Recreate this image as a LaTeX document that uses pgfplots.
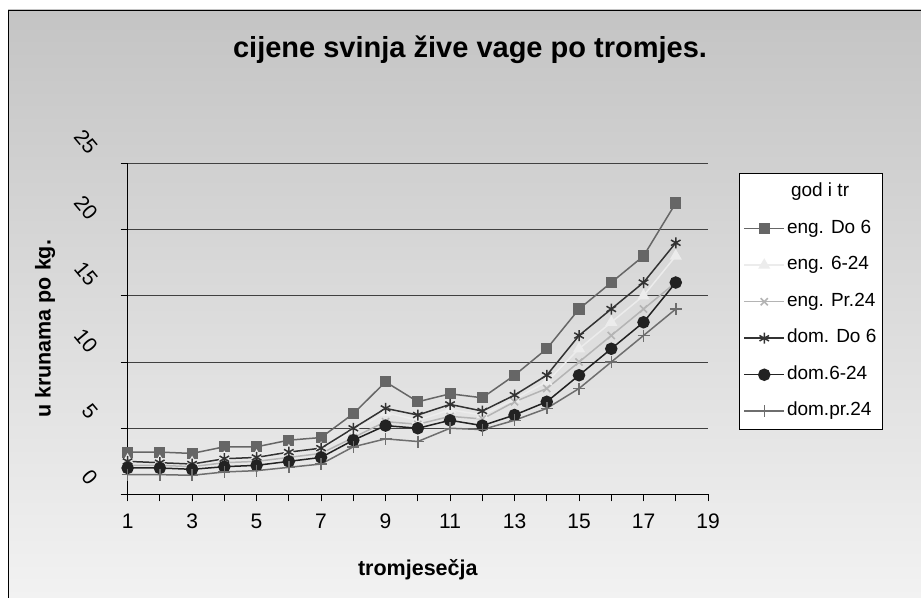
\documentclass[border=0pt]{standalone}
\usepackage{fontspec}
\setmainfont{Liberation Sans}
\usepackage{pgfplots}
\pgfplotsset{compat=1.18}

\definecolor{bgtop}{HTML}{C4C4C4}
\definecolor{bgbot}{HTML}{F2F2F2}
\definecolor{engdo}{HTML}{666666}
\definecolor{engsr}{HTML}{ECECEC}
\definecolor{engpr}{HTML}{B4B4B4}
\definecolor{domdo}{HTML}{333333}
\definecolor{domsr}{HTML}{222222}
\definecolor{dompr}{HTML}{6E6E6E}

\begin{document}
\begin{tikzpicture}[x=1bp,y=1bp]
\useasboundingbox (0,0) rectangle (921,598);
\fill[white] (0,0) rectangle (921,598);
\shade[top color=bgtop, bottom color=bgbot] (8,0) rectangle (921,588);
\draw[black, line width=1.5bp] (8.5,0) -- (8.5,587.5) -- (921,587.5);

\begin{axis}[
    at={(127.6bp,103.5bp)}, anchor=south west,
    scale only axis, width=580.4bp, height=331.2bp,
    xmin=1, xmax=19, ymin=0, ymax=25,
    axis lines=left, axis line style={-, black, line width=1bp},
    xtick={1,...,19},
    xticklabels={1,,3,,5,,7,,9,,11,,13,,15,,17,,19},
    ytick={0,5,...,25},
    tick align=outside, major tick length=7bp,
    tick style={black, line width=1bp},
    ymajorgrids, major grid style={draw=black!75, line width=1bp},
    /pgf/number format/assume math mode=true,
    xticklabel style={font=\fontsize{21bp}{24bp}\selectfont, yshift=-9bp},
    yticklabel style={font=\fontsize{21bp}{24bp}\selectfont, inner sep=0pt,
        xshift=-27bp, yshift=12.5bp, rotate=-50, anchor=east},
    title={cijene svinja žive vage po tromjes.},
    title style={at={(axis description cs:0.59,1.324)}, anchor=center,
        font=\bfseries\fontsize{29bp}{34bp}\selectfont},
    xlabel={tromjesečja},
    xlabel style={at={(axis description cs:0.5,-0.228)}, anchor=center,
        font=\bfseries\fontsize{21.5bp}{24bp}\selectfont},
    ylabel={u krunama po kg.},
    ylabel style={at={(axis description cs:-0.1423,0.5)}, anchor=center,
        font=\bfseries\fontsize{21.5bp}{24bp}\selectfont},
    legend cell align=left,
    legend style={at={(axis description cs:1.0534,0.9707)}, anchor=north west,
        draw=black, fill=white, line width=1bp,
        font=\fontsize{19bp}{22bp}\selectfont,
        inner xsep=4bp, inner ysep=8bp, row sep=15bp,
        nodes={inner sep=2bp, text height=13.5bp, text depth=4bp}},
    legend image code/.code={%
        \draw[mark repeat=2,mark phase=2,#1]
        plot coordinates {(0bp,0bp) (20bp,0bp) (40bp,0bp)};},
]

\addlegendimage{empty legend}
\addlegendentry{\hspace{4bp}god i tr}

% eng. Do 6
\addplot[color=engdo, line width=1.5bp, mark=square*, mark size=4.8bp,
    mark options={solid, fill=engdo}] coordinates {
    (1,3.2) (2,3.2) (3,3.1) (4,3.6) (5,3.6) (6,4.1) (7,4.3) (8,6.1) (9,8.5)
    (10,7.0) (11,7.6) (12,7.3) (13,9.0) (14,11.0) (15,14.0) (16,16.0) (17,18.0) (18,22.0)
};
\addlegendentry{eng. Do 6}

% eng. 6-24
\addplot[color=engsr, line width=1.5bp, mark=triangle*, mark size=5.5bp,
    mark options={solid, fill=engsr}] coordinates {
    (1,2.6) (2,2.5) (3,2.4) (4,2.8) (5,2.9) (6,3.3) (7,3.5) (8,4.8) (9,6.2)
    (10,5.6) (11,6.4) (12,6.0) (13,7.2) (14,8.5) (15,11.0) (16,13.0) (17,15.0) (18,18.0)
};
\addlegendentry{eng. 6-24}

% eng. Pr.24
\addplot[color=engpr, line width=1.5bp, mark=x, mark size=5bp,
    mark options={solid}] coordinates {
    (1,2.2) (2,2.2) (3,2.1) (4,2.4) (5,2.5) (6,2.8) (7,3.1) (8,4.3) (9,5.5)
    (10,5.3) (11,5.9) (12,5.7) (13,7.0) (14,8.0) (15,10.0) (16,12.0) (17,14.0) (18,16.0)
};
\addlegendentry{eng. Pr.24}

% dom. Do 6
\addplot[color=domdo, line width=1.5bp, mark=asterisk, mark size=5.5bp,
    mark options={solid}] coordinates {
    (1,2.5) (2,2.4) (3,2.3) (4,2.7) (5,2.8) (6,3.2) (7,3.5) (8,5.0) (9,6.5)
    (10,6.0) (11,6.8) (12,6.3) (13,7.5) (14,9.0) (15,12.0) (16,14.0) (17,16.0) (18,19.0)
};
\addlegendentry{dom. Do 6}

% dom.6-24
\addplot[color=domsr, line width=1.5bp, mark=*, mark size=5.5bp,
    mark options={solid, fill=domsr}] coordinates {
    (1,2.0) (2,2.0) (3,1.9) (4,2.1) (5,2.2) (6,2.5) (7,2.8) (8,4.1) (9,5.2)
    (10,5.0) (11,5.6) (12,5.2) (13,6.0) (14,7.0) (15,9.0) (16,11.0) (17,13.0) (18,16.0)
};
\addlegendentry{dom.6-24}

% dom.pr.24
\addplot[color=dompr, line width=1.5bp, mark=+, mark size=6bp,
    mark options={solid}] coordinates {
    (1,1.5) (2,1.5) (3,1.45) (4,1.7) (5,1.8) (6,2.05) (7,2.3) (8,3.6) (9,4.2)
    (10,4.0) (11,5.0) (12,4.9) (13,5.6) (14,6.5) (15,8.0) (16,10.0) (17,12.0) (18,14.0)
};
\addlegendentry{dom.pr.24}

\end{axis}
\end{tikzpicture}
\end{document}
